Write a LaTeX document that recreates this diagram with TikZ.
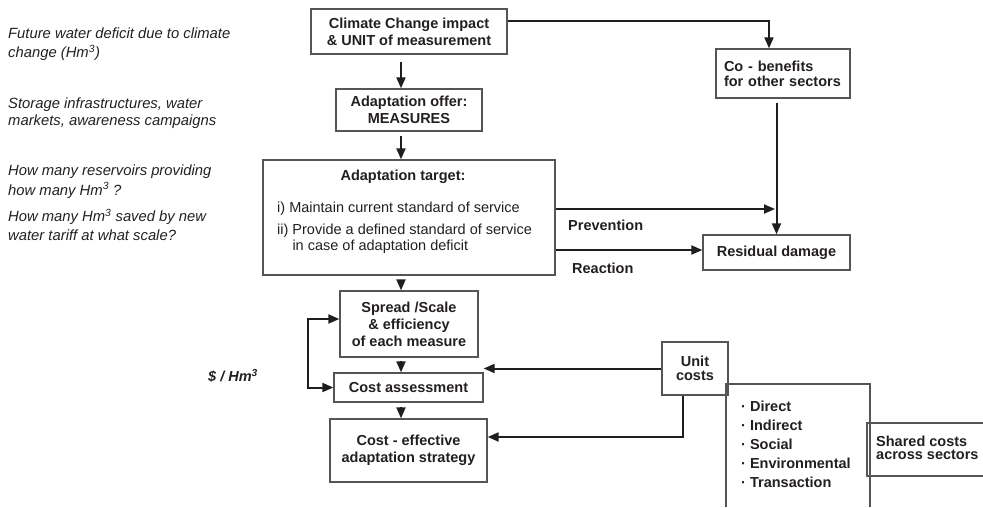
\documentclass[tikz,border=0pt]{standalone}
\usepackage{fontspec}
\setmainfont{Liberation Sans}
\usepackage{tikz}
\usetikzlibrary{arrows.meta,positioning}
\definecolor{boxgray}{RGB}{85,85,85}
\definecolor{linedark}{RGB}{30,30,30}
\definecolor{txtdark}{RGB}{35,31,32}

\begin{document}
\begin{tikzpicture}[x=1pt,y=-1pt,
  box/.style={draw=boxgray, line width=1.3pt, inner sep=0pt, align=center, text=txtdark,
    font=\fontsize{14.5}{17}\selectfont\bfseries},
  boxline/.style={draw=boxgray, line width=1.3pt},
  note/.style={anchor=base west, align=left, inner sep=0pt, text=txtdark,
    font=\fontsize{14.8}{18.5}\selectfont\itshape},
  plain/.style={anchor=base west, align=left, inner sep=0pt, text=txtdark,
    font=\fontsize{14.5}{16}\selectfont},
  lbl/.style={anchor=base west, align=left, inner sep=0pt, text=txtdark,
    font=\fontsize{14.5}{17}\selectfont\bfseries},
  conn/.style={draw=linedark, line width=2pt},
  arr/.style={conn, -{Triangle[length=11pt,width=9pt]}},
  arrboth/.style={conn, {Triangle[length=11pt,width=9pt]}-{Triangle[length=11pt,width=9pt]}}]
  \useasboundingbox (0,0) rectangle (983,507);

  % notes on the left (placed at the baseline of their last line)
  \node[note, font=\fontsize{14.8}{19}\selectfont\itshape] (deficit) at (8,57.3)
    {Future water deficit due to climate\\change (Hm\textsuperscript{3})};
  \node[note, font=\fontsize{14.8}{17}\selectfont\itshape] (storage) at (8,125)
    {Storage infrastructures, water\\markets, awareness campaigns};
  \node[note, font=\fontsize{14.8}{20}\selectfont\itshape] (reservoirs) at (8,195)
    {How many reservoirs providing\\how many Hm\textsuperscript{3} ?};
  \node[note] (tariff) at (8,240.2)
    {How many Hm\textsuperscript{3} saved by new\\water tariff at what scale?};
  \node[note, font=\fontsize{14.5}{17}\selectfont\bfseries\itshape] (perunit) at (208,381.7)
    {\$ / Hm\textsuperscript{3}};

  % main chain
  \node[box, minimum width=196pt, minimum height=45pt] (clim) at (409,31.5)
    {Climate Change impact\\\& UNIT of measurement};
  \node[box, minimum width=146pt, minimum height=42pt] (offer) at (409,110)
    {Adaptation offer:\\MEASURES};
  \node[box, minimum width=292pt, minimum height=115pt] (target) at (409,217.5) {};
  \node[lbl, anchor=base] (ttitle) at (403,180) {Adaptation target:};
  \node[plain] (titem1) at (277,212) {i) Maintain current standard of service};
  \node[plain] (titem2) at (277,250.5)
    {ii) Provide a defined standard of service\\\hphantom{ii) }in case of adaptation deficit};
  \node[box, minimum width=138pt, minimum height=66pt] (spread) at (409,324)
    {Spread /Scale\\\& efficiency\\of each measure};
  \node[box, minimum width=149pt, minimum height=29pt] (cost) at (408.5,387.5) {Cost assessment};
  \node[box, minimum width=157pt, minimum height=63pt] (eff) at (408.5,450.5)
    {Cost - effective\\adaptation strategy};

  % right side
  \node[box, align=left, inner xsep=8pt, text width=118pt, minimum height=49pt,
    font=\fontsize{14.5}{15}\selectfont\bfseries] (cobe) at (783,73.5)
    {Co - benefits\\for other sectors};
  \node[box, minimum width=147pt, minimum height=35pt] (resid) at (776.5,252.5) {Residual damage};
  \node[lbl] (prev) at (568,230.7) {Prevention};
  \node[lbl] (react) at (572,273) {Reaction};
  \node[box, minimum width=66pt, minimum height=53pt,
    font=\fontsize{14.5}{14}\selectfont\bfseries] (unit) at (695,368.5) {Unit\\costs};

  % cost types and shared costs (open boxes)
  \draw[boxline] (726,507) |- (870,384) -- (870,507);
  \node[lbl, font=\fontsize{14.5}{19}\selectfont\bfseries] (types) at (741,487.5)
    {· Direct\\· Indirect\\· Social\\· Environmental\\· Transaction};
  \draw[boxline] (983,423) -| (867,476) -- (983,476);
  \node[lbl, font=\fontsize{14.5}{13.5}\selectfont\bfseries] (shared) at (876,459.5)
    {Shared costs\\across sectors};

  % connectors
  \coordinate (ax) at (401,0);
  \draw[arr, shorten <=7pt] (clim.south -| ax) -- (offer.north -| ax);
  \draw[arr, shorten <=4pt] (offer.south -| ax) -- (target.north -| ax);
  \draw[arr, shorten <=7pt] (target.south -| ax) -- (spread.north -| ax);
  \draw[arr, shorten <=3pt] (spread.south -| ax) -- (cost.north -| ax);
  \draw[arr, shorten <=4pt] (cost.south -| ax) -- (eff.north -| ax);

  \coordinate (cb) at (769,21);
  \draw[arr] (clim.east |- cb) -| (cobe.north -| cb);
  \draw[arr, shorten <=4pt] (cobe.south -| resid.north) -- (resid.north);

  \coordinate (pv) at (775,209);
  \draw[arr] (target.east |- pv) -- (pv);
  \coordinate (rc) at (0,250);
  \draw[arr] (target.east |- rc) -- (resid.west |- rc);

  \coordinate (lp) at (308,0);
  \draw[arrboth] ([yshift=5pt]spread.west) -| (cost.west -| lp) -- (cost.west);

  \draw[arr] (unit.west) -- (unit.west -| cost.east);
  \coordinate (uc) at (683,437);
  \draw[arr] (unit.south -| uc) -- (uc) -- (eff.east |- uc);
\end{tikzpicture}
\end{document}
